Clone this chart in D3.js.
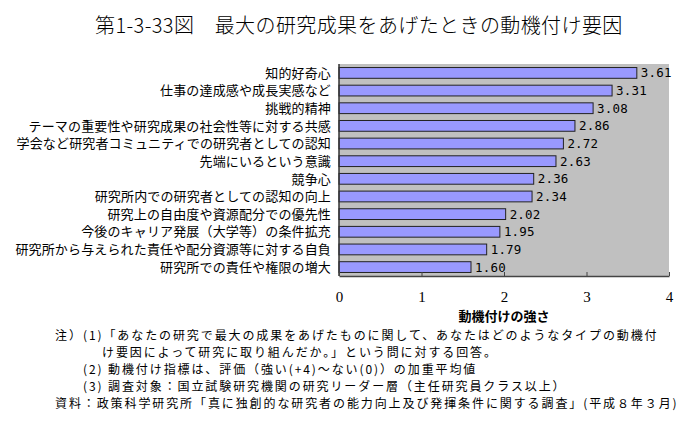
<!DOCTYPE html>
<html><head><meta charset="utf-8">
<script src="https://cdn.jsdelivr.net/npm/d3@7"></script>
<style>
html,body{margin:0;padding:0;background:#fff;}
svg{display:block;}
text{font-family:"Noto Sans CJK JP","Noto Sans",sans-serif;fill:#000;}
</style></head>
<body>
<svg id="c" width="690" height="422"></svg>
<script>
const categories = [
  "知的好奇心",
  "仕事の達成感や成長実感など",
  "挑戦的精神",
  "テーマの重要性や研究成果の社会性等に対する共感",
  "学会など研究者コミュニティでの研究者としての認知",
  "先端にいるという意識",
  "競争心",
  "研究所内での研究者としての認知の向上",
  "研究上の自由度や資源配分での優先性",
  "今後のキャリア発展（大学等）の条件拡充",
  "研究所から与えられた責任や配分資源等に対する自負",
  "研究所での責任や権限の増大"
];
const values = [3.61, 3.31, 3.08, 2.86, 2.72, 2.63, 2.36, 2.34, 2.02, 1.95, 1.79, 1.60];
const xTicks = [0, 1, 2, 3, 4];
const titleText = "第1-3-33図　最大の研究成果をあげたときの動機付け要因";
const axisTitle = "動機付けの強さ";
const notes = [
  {indent: 0, text: "注）"},
  {indent: 1, text: "(1)「あなたの研究で最大の成果をあげたものに関して、あなたはどのようなタイプの動機付"},
  {indent: 2, text: "け要因によって研究に取り組んだか。」という問に対する回答。"},
  {indent: 1, text: "(2) 動機付け指標は、評価（強い(+4)～ない(0)）の加重平均値"},
  {indent: 1, text: "(3) 調査対象：国立試験研究機関の研究リーダー層（主任研究員クラス以上）"},
  {indent: 0, text: "資料：政策科学研究所「真に独創的な研究者の能力向上及び発揮条件に関する調査」(平成８年３月)"}
];

const svg = d3.select("#c");
const L = 339, R = 669, T = 64, B = 276;

const x = d3.scaleLinear().domain([0, 4]).range([L, R]);
const y = d3.scaleBand().domain(categories).range([T, B]).paddingInner(0.39).paddingOuter(0.2);

// title
svg.append("text").attr("x", 95).attr("y", 26).attr("dy", "0.36em")
  .attr("font-size", 20).attr("font-weight", 300).attr("letter-spacing", 0.4).text(titleText);

// plot background
svg.append("rect").attr("x", L).attr("y", T).attr("width", R - L).attr("height", B - T)
  .attr("fill", "#c0c0c0");

// bars
svg.append("g").selectAll("rect").data(values).join("rect")
  .attr("x", x(0))
  .attr("y", (d, i) => y(categories[i]))
  .attr("width", d => x(d) - x(0))
  .attr("height", y.bandwidth())
  .attr("fill", "#9999ff")
  .attr("stroke", "#222")
  .attr("stroke-width", 1);

// value labels
svg.append("g").selectAll("text").data(values).join("text")
  .attr("x", d => x(d) + 4)
  .attr("y", (d, i) => y(categories[i]) + y.bandwidth() / 2)
  .attr("dy", "0.36em")
  .style("font-family", "'DejaVu Sans Mono',monospace")
  .attr("font-size", 12.5)
  .attr("letter-spacing", 0.2)
  .text(d => d3.format(".2f")(d));

// category labels
svg.append("g").selectAll("text").data(categories).join("text")
  .attr("x", 331)
  .attr("y", d => y(d) + y.bandwidth() / 2)
  .attr("dy", "0.36em")
  .attr("text-anchor", "end")
  .attr("font-size", 13)
  .attr("letter-spacing", 0.15)
  .text(d => d);

// left axis line
svg.append("line").attr("x1", L).attr("x2", L).attr("y1", T).attr("y2", B)
  .attr("stroke", "#333").attr("stroke-width", 1.5);

// bottom axis
const xAxis = svg.append("g").attr("transform", `translate(0,${B})`)
  .call(d3.axisBottom(x).tickValues(xTicks).tickFormat(d3.format("d"))
    .tickSizeInner(-4).tickSizeOuter(0).tickPadding(15));
xAxis.select(".domain").attr("stroke", "#444").attr("stroke-width", 1.5);
xAxis.selectAll(".tick line").attr("stroke", "#444");
xAxis.selectAll("text").attr("font-size", 15).style("font-family", "'Liberation Serif',serif");

// axis title
svg.append("text").attr("x", (L + R) / 2).attr("y", 316).attr("dy", "0.36em")
  .attr("text-anchor", "middle").attr("font-size", 13).attr("font-weight", "bold")
  .text(axisTitle);

// notes
const noteX = [55, 83, 102];
const noteY = [336, 336, 353, 370, 387, 404];
svg.append("g").selectAll("text").data(notes).join("text")
  .attr("x", d => noteX[d.indent])
  .attr("y", (d, i) => noteY[i])
  .attr("dy", "0.36em")
  .attr("font-size", 12)
  .attr("letter-spacing", 1.9)
  .text(d => d.text);
</script>
</body></html>
